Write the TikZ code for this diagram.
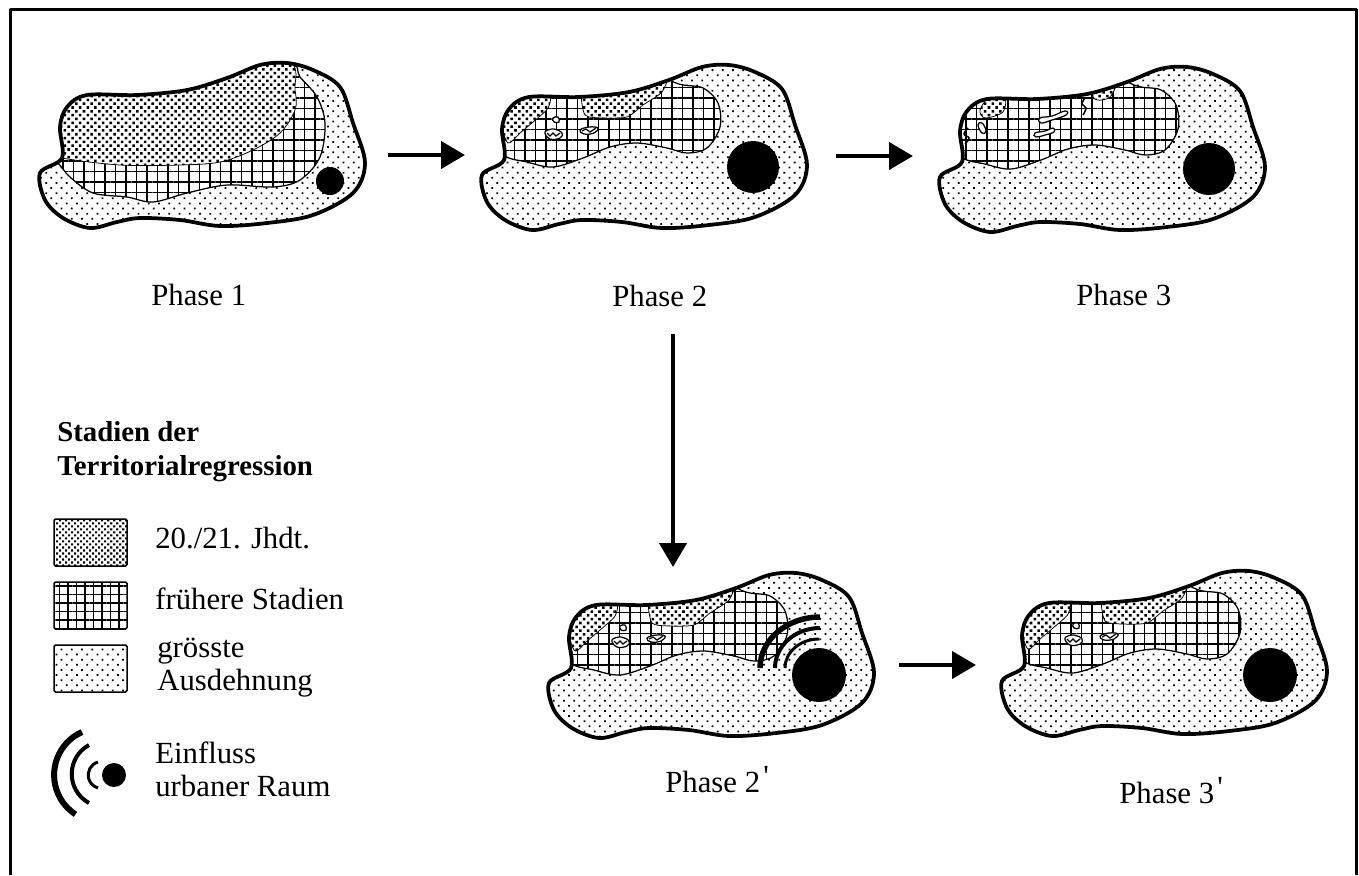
\documentclass[tikz,border=0pt]{standalone}
\usepackage{fontspec}
\setmainfont{Liberation Serif}
\newfontfamily\primefont{Liberation Serif}
\usetikzlibrary{positioning,arrows.meta,patterns.meta}

\newcommand{\mapoutline}{plot[smooth cycle,tension=.55] coordinates {(62,158) (40,173) (45,200) (63,218) (90,228) (117,222) (140,218) (180,220) (220,226) (267,223) (313,215) (353,193) (365,163) (353,123) (340,87) (313,70) (287,63) (260,65) (227,78) (187,90) (137,95) (87,95) (67,107) (60,127)}}
\newcommand{\gridlate}{plot[smooth cycle,tension=.55] coordinates {(60,152) (85,160) (111,165) (141,156) (168,145) (195,141) (225,146) (245,151) (265,146) (278,125) (276,101) (261,86) (241,83) (228,78) (200,60) (60,70) (40,120)}}
\newcommand{\denseleft}{plot[smooth cycle,tension=.5] coordinates {(66,141) (60,120) (70,95) (95,88) (108,92) (106,106) (91,120) (78,131)}}
\newcommand{\denseright}{plot[smooth cycle,tension=.4] coordinates {(140,90) (161,85) (190,80) (225,72) (220,90) (201,103) (185,115) (161,116) (143,113)}}
\newcommand{\primemark}{\kern.1em\raisebox{.17em}{\primefont\symbol{39}}}

% islands left over in the later stages
\newcommand{\islands}{%
  \draw[patch] plot[smooth cycle,tension=.7] coordinates {(103,130) (112,127) (120,131) (118,136) (108,137)};
  \draw[line width=.25mm] (105,131) -- (108,134) -- (111,131) -- (114,134) -- (118,131);
  \draw[patch] plot[smooth cycle,tension=.7] coordinates {(138,128) (147,125) (156,126) (152,131) (142,132)};
  \draw[line width=.25mm] (140,129) -- (144,127) -- (148,130) -- (154,126);
  \draw[patch] plot[smooth cycle,tension=.7] coordinates {(111,116) (116,115) (117,120) (112,120)};
  \draw[line width=.4mm] (122,93) -- (130,88);
}

\tikzset{
  x=.2mm, y=-.2mm,
  sparse/.style={preaction={fill=white}, pattern={Dots[distance=1.45mm,radius=.25mm,angle=45]}},
  dense/.style={preaction={fill=white}, pattern={Dots[distance=1.08mm,radius=.36mm,angle=45]}, draw, line width=.15mm},
  hatched/.style={preaction={fill=white}, pattern={Hatch[distance=2.1mm,line width=.32mm]}, draw, line width=.25mm},
  border/.style={draw, line width=.75mm},
  patch/.style={draw, fill=white, line width=.25mm},
  town/.style={fill=black},
  arr/.style={-{Triangle[length=4.8mm,width=5.4mm]}, line width=.85mm},
  wave/.style={line width=#1, line cap=butt},
  caption/.style={anchor=base west, inner sep=0pt, font=\fontsize{17.5}{20}\selectfont, align=left},
  legendbox/.style={draw, line width=.3mm, rounded corners=.3mm, outer sep=0pt, minimum width=14.6mm, minimum height=9.4mm, inner sep=0pt, anchor=north west},
}

\begin{document}
\begin{tikzpicture}
\useasboundingbox (0,0) rectangle (1359,875);
% Frame
\draw[line width=.6mm, line join=round] (10,875) -- (10,9) -- (1356,9) -- (1356,875);

% Phase 1
\path[sparse] \mapoutline;
\begin{scope}
  \clip \mapoutline;
  \path[hatched] plot[smooth cycle,tension=.55] coordinates {(57,162) (70,177) (93,193) (127,197) (153,202) (187,193) (227,185) (273,187) (300,180) (320,157) (325,123) (317,97) (300,77) (287,60) (200,40) (40,90) (40,150)};
  \path[dense] plot[smooth cycle,tension=.55] coordinates {(62,158) (120,165) (180,165) (220,162) (253,150) (280,133) (295,110) (295,90) (287,60) (200,50) (40,90) (40,150)};
\end{scope}
\path[border] \mapoutline;
\fill[town] (330,181) circle (14);

% Phase 2
\begin{scope}[shift={(442,2)}]
  \path[sparse] \mapoutline;
  \begin{scope}
    \clip \mapoutline;
    \path[hatched] \gridlate;
    \path[dense] \denseleft;
    \path[dense] \denseright;
    \islands
  \end{scope}
  \path[border] \mapoutline;
  \fill[town] (311,165) circle (26);
\end{scope}

% Phase 3
\begin{scope}[shift={(900,4)}]
  \path[sparse] \mapoutline;
  \begin{scope}
    \clip \mapoutline;
    \path[hatched] \gridlate;
    \path[dense] plot[smooth cycle,tension=.5] coordinates {(80,106) (90,92) (105,92) (103,108) (85,114)};
    \path[dense] plot[smooth cycle,tension=.5] coordinates {(193,89) (217,76) (210,93) (197,96)};
    \draw[patch] plot[smooth cycle,tension=.8] coordinates {(140,114) (152,112) (165,107) (166,111) (152,116) (141,119)};
    \draw[patch] plot[smooth cycle,tension=.8] coordinates {(135,129) (145,127) (153,124) (154,128) (145,131) (136,133)};
    \draw[patch] plot[smooth cycle,tension=.8] coordinates {(78,121) (82,119) (86,127) (82,129)};
    \draw[line width=.3mm] plot[smooth,tension=.7] coordinates {(185,94) (182,100) (186,104) (183,111)};
    \draw[line width=.3mm] plot[smooth,tension=.7] coordinates {(68,124) (64,130) (69,134) (65,140)};
  \end{scope}
  \path[border] \mapoutline;
  \fill[town] (309,165) circle (26);
\end{scope}

% Phase 2'
\begin{scope}[shift={(509,510)}]
  \path[sparse] \mapoutline;
  \begin{scope}
    \clip \mapoutline;
    \path[hatched] \gridlate;
    \path[dense] \denseleft;
    \path[dense] \denseright;
    \islands
  \end{scope}
  \path[border] \mapoutline;
  \fill[town] (310,165) circle (27);
  \draw[wave=1.1mm] (251,158) arc[start angle=180,end angle=270,x radius=60,y radius=51];
  \draw[wave=.8mm] (266,158) arc[start angle=180,end angle=270,x radius=45,y radius=40];
  \draw[wave=.6mm] (276,158) arc[start angle=180,end angle=270,x radius=34,y radius=29];
\end{scope}

% Phase 3'
\begin{scope}[shift={(962,508)}]
  \path[sparse] \mapoutline;
  \begin{scope}
    \clip \mapoutline;
    \path[hatched] \gridlate;
    \path[dense] \denseleft;
    \path[dense] \denseright;
    \islands
  \end{scope}
  \path[border] \mapoutline;
  \fill[town] (308,167) circle (27);
\end{scope}

% Arrows
\coordinate (p1end) at (388,155);
\coordinate (p2start) at (465,155);
\coordinate (p2end) at (836,156);
\coordinate (p3start) at (913,156);
\coordinate (p2down) at (673,334);
\coordinate (p2top) at (673,567);
\coordinate (p2dash) at (899,665);
\coordinate (p3dash) at (976,665);
\draw[arr] (p1end) -- (p2start);
\draw[arr] (p2end) -- (p3start);
\draw[arr] (p2down) -- (p2top);
\draw[arr] (p2dash) -- (p3dash);

% Phase labels
\node[caption] (phaseone) at (151,305) {Phase 1};
\node[caption] (phasetwo) at (612,306) {Phase 2};
\node[caption] (phasethree) at (1076,305) {Phase 3};
\node[caption] (phasetwod) at (665,792) {Phase 2\primemark};
\node[caption] (phasethreed) at (1119,803) {Phase 3\primemark};

% Legend
\node[caption, font=\fontsize{16.4}{19.3}\selectfont\bfseries] (legendtitle) at (57,441) {Stadien der};
\node[caption, font=\fontsize{16.4}{19.3}\selectfont\bfseries] (legendsub) at (57,475) {Territorialregression};
\node[legendbox, dense, pattern={Dots[distance=.85mm,radius=.3mm,angle=45]}, line width=.3mm] (boxlate) at (54,519) {};
\node[legendbox, hatched, pattern={Hatch[distance=1.7mm,line width=.3mm]}, line width=.3mm, below=3.2mm of boxlate] (boxearly) {};
\node[legendbox, sparse, below=3.2mm of boxearly] (boxmax) {};
\node[caption] (textlate) at (155,548) {20./21. Jhdt.};
\node[caption] (textearly) at (155,609) {frühere Stadien};
\node[caption] (textmax) at (157,657) {grösste};
\node[caption] (textmaxb) at (157,690) {Ausdehnung};
\node[caption] (textinfl) at (155,763) {Einfluss};
\node[caption] (textinflb) at (155,796) {urbaner Raum};
\fill[town] (114,775) circle (12);
\draw[wave=.6mm] (98,762) arc[start angle=254,end angle=106,radius=13.5];
\draw[wave=.8mm] (89,745) arc[start angle=241.5,end angle=118.5,radius=33];
\draw[wave=1.2mm] (82,732) arc[start angle=246,end angle=123,radius=47];
\end{tikzpicture}
\end{document}
